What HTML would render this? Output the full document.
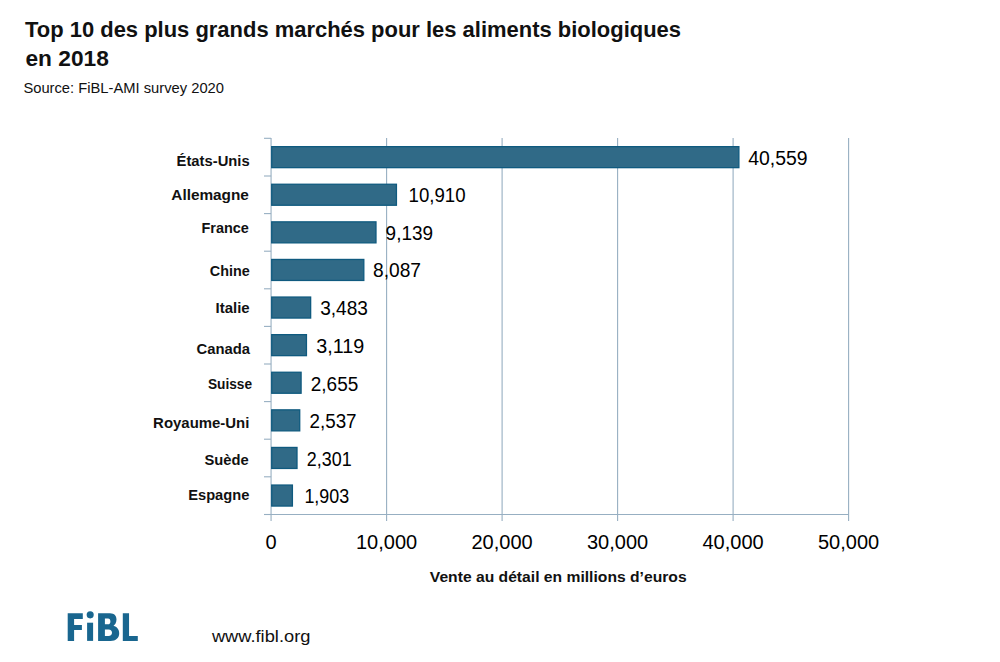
<!DOCTYPE html><html><head><meta charset="utf-8"><style>html,body{margin:0;padding:0;background:#fff;width:1000px;height:662px;overflow:hidden}svg{display:block;font-family:"Liberation Sans",sans-serif}</style></head><body>
<svg width="1000" height="662" viewBox="0 0 1000 662">
<rect width="1000" height="662" fill="#fff"/>
<text x="25" y="37" font-size="22" font-weight="bold" fill="#111" textLength="656" lengthAdjust="spacingAndGlyphs">Top 10 des plus grands marchés pour les aliments biologiques</text>
<text x="25.5" y="66.4" font-size="22" font-weight="bold" fill="#111" textLength="83.3" lengthAdjust="spacingAndGlyphs">en 2018</text>
<text x="23.4" y="93.1" font-size="15.5" fill="#111" textLength="200.6" lengthAdjust="spacingAndGlyphs">Source: FiBL-AMI survey 2020</text>
<line x1="386.6" y1="138" x2="386.6" y2="521" stroke="#97afc2" stroke-width="1.1"/>
<line x1="502.1" y1="138" x2="502.1" y2="521" stroke="#97afc2" stroke-width="1.1"/>
<line x1="617.6" y1="138" x2="617.6" y2="521" stroke="#97afc2" stroke-width="1.1"/>
<line x1="733.1" y1="138" x2="733.1" y2="521" stroke="#97afc2" stroke-width="1.1"/>
<line x1="848.6" y1="138" x2="848.6" y2="521" stroke="#97afc2" stroke-width="1.1"/>
<line x1="271.07" y1="138" x2="271.07" y2="521" stroke="#97afc2" stroke-width="1.1"/>
<line x1="264" y1="138.3" x2="271.07" y2="138.3" stroke="#97afc2" stroke-width="1.1"/>
<line x1="264" y1="176.0" x2="271.07" y2="176.0" stroke="#97afc2" stroke-width="1.1"/>
<line x1="264" y1="213.6" x2="271.07" y2="213.6" stroke="#97afc2" stroke-width="1.1"/>
<line x1="264" y1="251.2" x2="271.07" y2="251.2" stroke="#97afc2" stroke-width="1.1"/>
<line x1="264" y1="288.8" x2="271.07" y2="288.8" stroke="#97afc2" stroke-width="1.1"/>
<line x1="264" y1="326.4" x2="271.07" y2="326.4" stroke="#97afc2" stroke-width="1.1"/>
<line x1="264" y1="364.0" x2="271.07" y2="364.0" stroke="#97afc2" stroke-width="1.1"/>
<line x1="264" y1="401.6" x2="271.07" y2="401.6" stroke="#97afc2" stroke-width="1.1"/>
<line x1="264" y1="439.2" x2="271.07" y2="439.2" stroke="#97afc2" stroke-width="1.1"/>
<line x1="264" y1="476.8" x2="271.07" y2="476.8" stroke="#97afc2" stroke-width="1.1"/>
<line x1="264" y1="514.5" x2="271.07" y2="514.5" stroke="#97afc2" stroke-width="1.1"/>
<line x1="264" y1="514.45" x2="849" y2="514.45" stroke="#97afc2" stroke-width="1.1"/>
<rect x="271.72" y="146.65" width="467.16" height="21.00" fill="#306a87" stroke="#0f5a7f" stroke-width="1.3"/>
<rect x="271.72" y="184.25" width="124.71" height="21.00" fill="#306a87" stroke="#0f5a7f" stroke-width="1.3"/>
<rect x="271.72" y="221.85" width="104.26" height="21.00" fill="#306a87" stroke="#0f5a7f" stroke-width="1.3"/>
<rect x="271.72" y="259.45" width="92.10" height="21.00" fill="#306a87" stroke="#0f5a7f" stroke-width="1.3"/>
<rect x="271.72" y="297.05" width="38.93" height="21.00" fill="#306a87" stroke="#0f5a7f" stroke-width="1.3"/>
<rect x="271.72" y="334.65" width="34.72" height="21.00" fill="#306a87" stroke="#0f5a7f" stroke-width="1.3"/>
<rect x="271.72" y="372.25" width="29.37" height="21.00" fill="#306a87" stroke="#0f5a7f" stroke-width="1.3"/>
<rect x="271.72" y="409.85" width="28.00" height="21.00" fill="#306a87" stroke="#0f5a7f" stroke-width="1.3"/>
<rect x="271.72" y="447.45" width="25.28" height="21.00" fill="#306a87" stroke="#0f5a7f" stroke-width="1.3"/>
<rect x="271.72" y="485.05" width="20.68" height="21.00" fill="#306a87" stroke="#0f5a7f" stroke-width="1.3"/>
<text x="176.6" y="166.2" font-size="15.5" font-weight="bold" fill="#111" textLength="73.1" lengthAdjust="spacingAndGlyphs">États-Unis</text>
<text x="171.3" y="200.1" font-size="15.5" font-weight="bold" fill="#111" textLength="77.6" lengthAdjust="spacingAndGlyphs">Allemagne</text>
<text x="201.5" y="233.0" font-size="15.5" font-weight="bold" fill="#111" textLength="47.4" lengthAdjust="spacingAndGlyphs">France</text>
<text x="209.8" y="275.8" font-size="15.5" font-weight="bold" fill="#111" textLength="39.9" lengthAdjust="spacingAndGlyphs">Chine</text>
<text x="215.6" y="312.8" font-size="15.5" font-weight="bold" fill="#111" textLength="34.1" lengthAdjust="spacingAndGlyphs">Italie</text>
<text x="196.5" y="353.9" font-size="15.5" font-weight="bold" fill="#111" textLength="53.5" lengthAdjust="spacingAndGlyphs">Canada</text>
<text x="207.9" y="389.0" font-size="15.5" font-weight="bold" fill="#111" textLength="44.2" lengthAdjust="spacingAndGlyphs">Suisse</text>
<text x="153.1" y="427.9" font-size="15.5" font-weight="bold" fill="#111" textLength="96.3" lengthAdjust="spacingAndGlyphs">Royaume-Uni</text>
<text x="204.5" y="464.8" font-size="15.5" font-weight="bold" fill="#111" textLength="44.2" lengthAdjust="spacingAndGlyphs">Suède</text>
<text x="188.2" y="500.4" font-size="15.5" font-weight="bold" fill="#111" textLength="61.2" lengthAdjust="spacingAndGlyphs">Espagne</text>
<text x="748.2" y="165.0" font-size="20" fill="#000" textLength="59.4" lengthAdjust="spacingAndGlyphs">40,559</text>
<text x="408.6" y="202.4" font-size="20" fill="#000" textLength="57.0" lengthAdjust="spacingAndGlyphs">10,910</text>
<text x="385.6" y="240.0" font-size="20" fill="#000" textLength="47.4" lengthAdjust="spacingAndGlyphs">9,139</text>
<text x="373.0" y="277.4" font-size="20" fill="#000" textLength="48.0" lengthAdjust="spacingAndGlyphs">8,087</text>
<text x="320.2" y="315.4" font-size="20" fill="#000" textLength="47.7" lengthAdjust="spacingAndGlyphs">3,483</text>
<text x="316.3" y="352.5" font-size="20" fill="#000" textLength="48.0" lengthAdjust="spacingAndGlyphs">3,119</text>
<text x="310.8" y="390.6" font-size="20" fill="#000" textLength="47.5" lengthAdjust="spacingAndGlyphs">2,655</text>
<text x="309.5" y="428.1" font-size="20" fill="#000" textLength="47.1" lengthAdjust="spacingAndGlyphs">2,537</text>
<text x="306.8" y="465.6" font-size="20" fill="#000" textLength="44.8" lengthAdjust="spacingAndGlyphs">2,301</text>
<text x="304.4" y="503.3" font-size="20" fill="#000" textLength="44.8" lengthAdjust="spacingAndGlyphs">1,903</text>
<text x="271.1" y="548.5" font-size="20" fill="#000" text-anchor="middle">0</text>
<text x="386.6" y="548.5" font-size="20" fill="#000" text-anchor="middle">10,000</text>
<text x="502.1" y="548.5" font-size="20" fill="#000" text-anchor="middle">20,000</text>
<text x="617.6" y="548.5" font-size="20" fill="#000" text-anchor="middle">30,000</text>
<text x="733.1" y="548.5" font-size="20" fill="#000" text-anchor="middle">40,000</text>
<text x="848.6" y="548.5" font-size="20" fill="#000" text-anchor="middle">50,000</text>
<text x="429.8" y="581.8" font-size="15.5" font-weight="bold" fill="#111" textLength="256.8" lengthAdjust="spacingAndGlyphs">Vente au détail en millions d’euros</text>
<g fill="#19668f">
<path d="M67.7,613.3H82.8V618.9H74.1V624.9H81.9V630.0H74.1V640.9H67.7Z"/>
<rect x="87.1" y="622.7" width="6" height="18.2"/><circle cx="90.2" cy="614.85" r="3.55"/>
<path fill-rule="evenodd" d="M98.1,613.2H110C114.5,613.2 116.5,616 116.5,619.5C116.5,622.5 115,624.8 113.5,625.8C117,626.8 119.2,629.5 119.2,633.2C119.2,637.8 116,640.9 110.5,640.9H98.1Z M104.9,618.6H108C109.6,618.6 110.4,619.8 110.4,621.4C110.4,623.1 109.6,624.3 108,624.3H104.9Z M104.9,629.5H108.5C110.8,629.5 112,630.9 112,632.7C112,634.6 110.8,636 108.5,636H104.9Z"/>
<path d="M122.8,613.2H129.05V636H137.8V640.9H122.8Z"/>
</g>
<text x="211.9" y="641.8" font-size="17" fill="#111" textLength="98.5" lengthAdjust="spacingAndGlyphs">www.fibl.org</text>
</svg></body></html>
